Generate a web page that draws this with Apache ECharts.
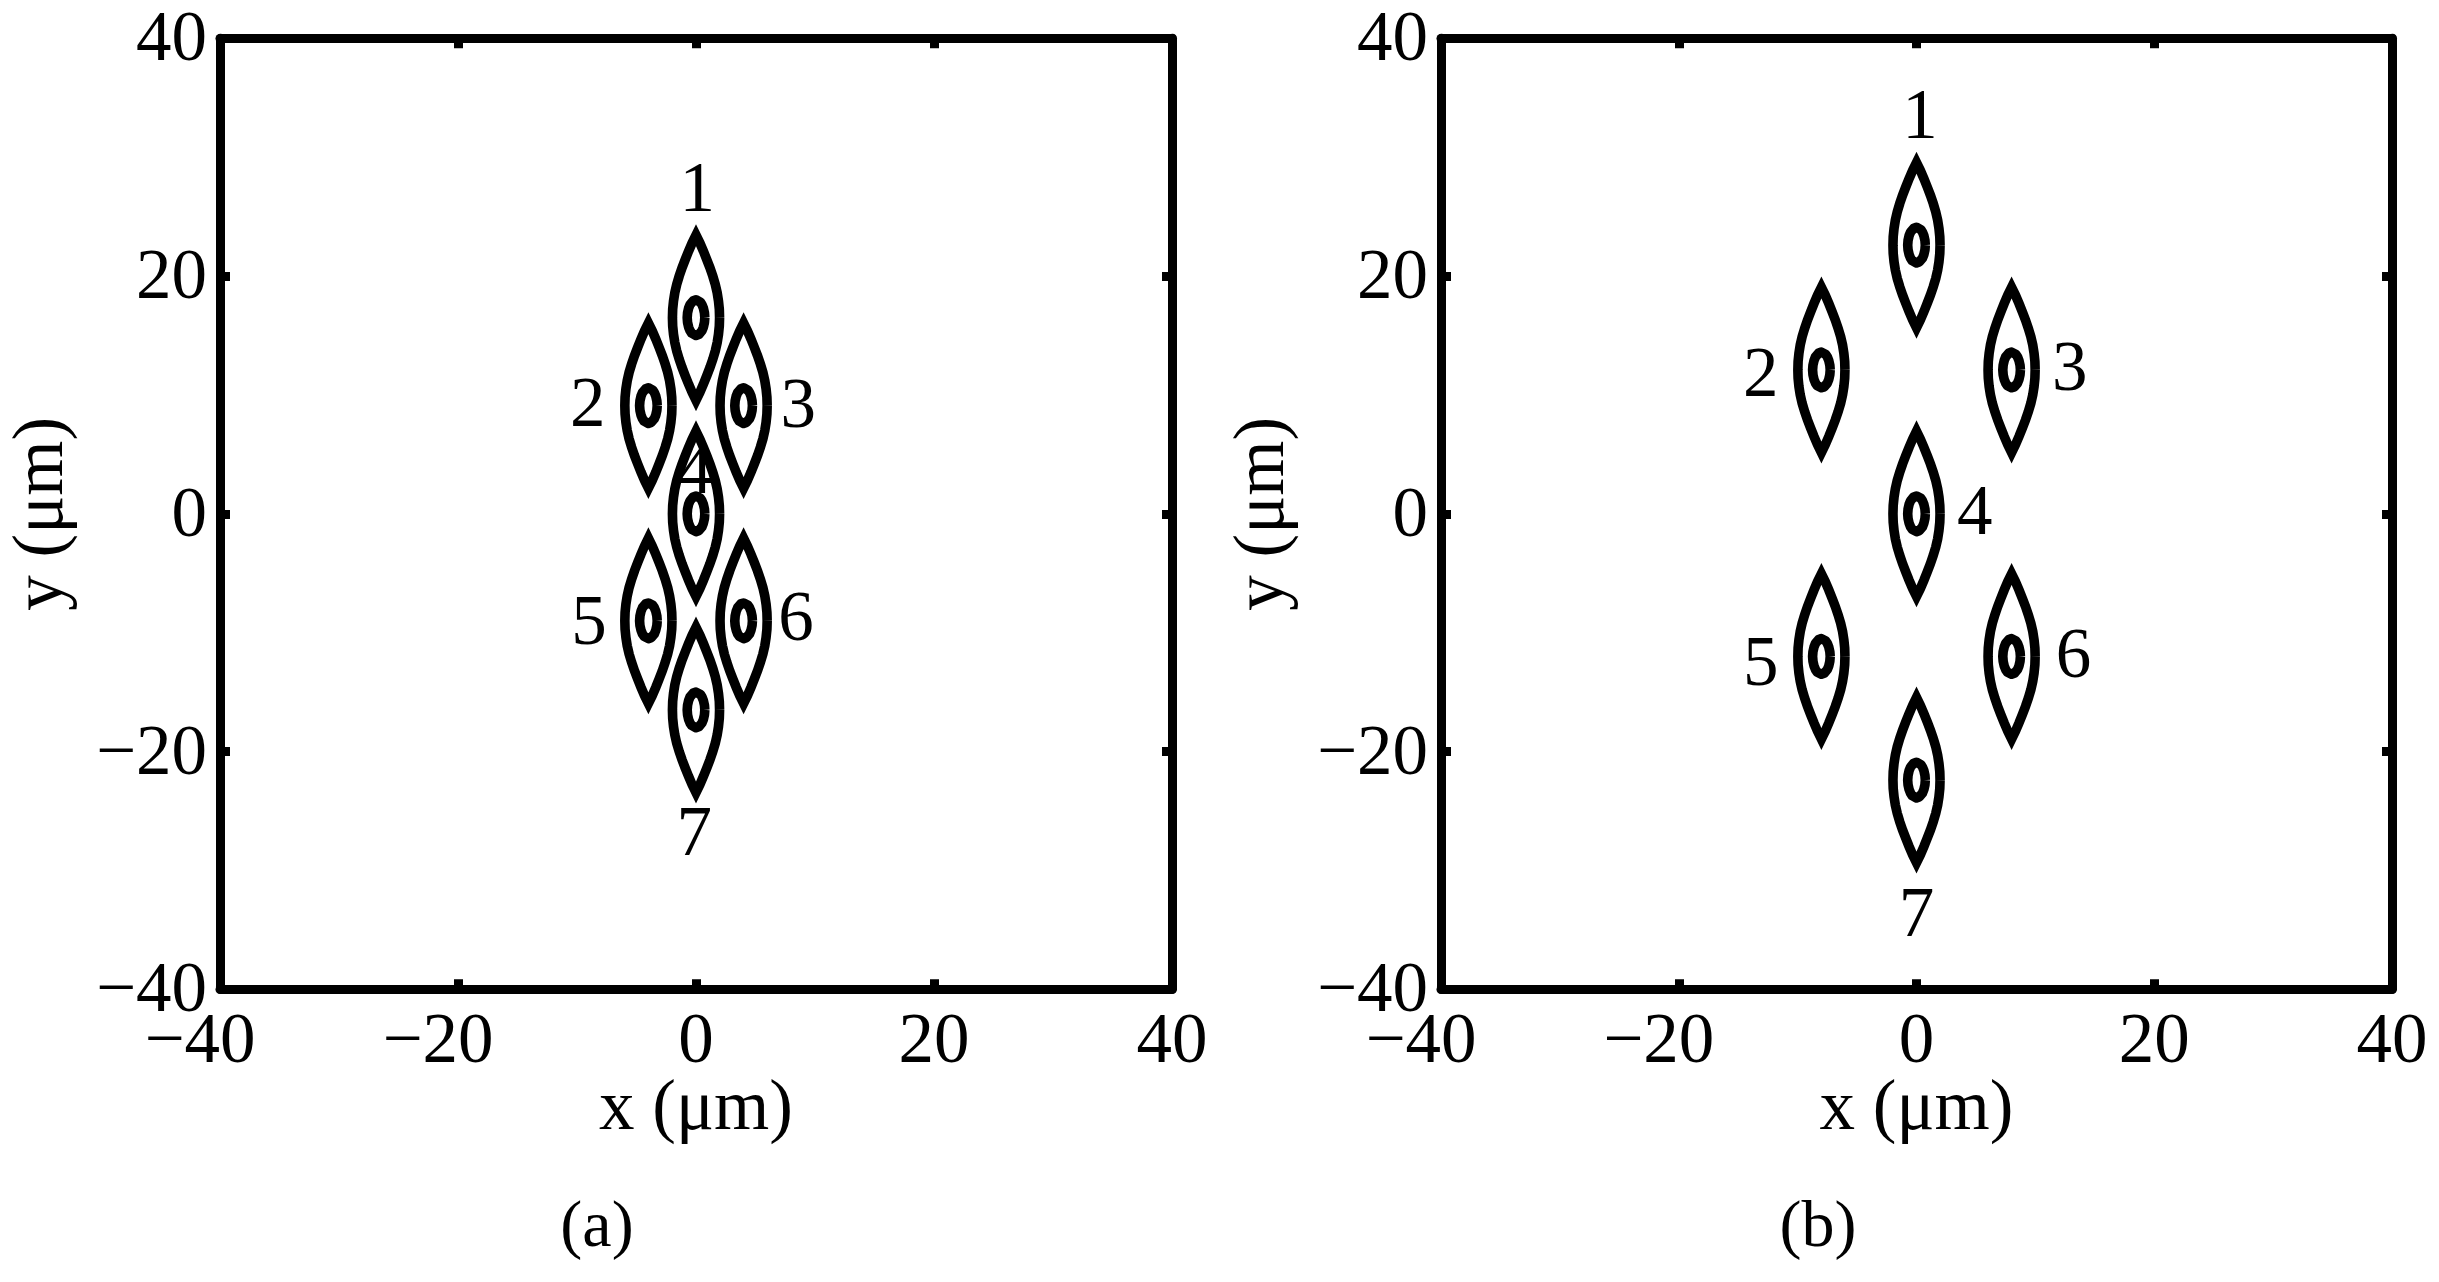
<!DOCTYPE html>
<html><head><meta charset="utf-8"><style>html,body{margin:0;padding:0;background:#fff}#c{width:2439px;height:1282px}</style>
<script src="https://cdn.jsdelivr.net/npm/echarts@6/dist/echarts.min.js"></script></head>
<body><div id="c"></div><script>
const xName = 'x (μm)';
const yName = 'y (μm)';
const captions = ['(a)', '(b)'];
const axisMin = -40, axisMax = 40, axisStep = 20;
// element centres (µm)
const centresA = [[0,16.5],[-4,9.1],[4,9.1],[0,0],[-4,-9],[4,-9],[0,-16.5]];
const centresB = [[0,22.6],[-8,12.1],[8,12.1],[0,0],[-8,-12],[8,-12],[0,-22.4]];
// number labels: [x, y, text]
const labelsA = [[0.1,27.3,'1'],[-9.1,9.2,'2'],[8.6,9.1,'3'],[-0.1,3.6,'4'],[-9,-9.1,'5'],[8.4,-8.8,'6'],[-0.15,-26.9,'7']];
const labelsB = [[0.3,33.4,'1'],[-13.1,11.7,'2'],[12.9,12.2,'3'],[4.9,0.15,'4'],[-13.1,-12.6,'5'],[13.2,-11.9,'6'],[0,-33.7,'7']];
// quarter outlines: [half-height, half-width] (µm)
const lensQuarter = [[0,1.98],[0.7,1.96],[1.4,1.89],[2.1,1.78],[2.8,1.62],[3.5,1.41],[4.2,1.17],[4.9,0.9],[5.6,0.62],[6.3,0.32],[6.95,0]];
const coreQuarter = [[0,0.74],[0.4,0.71],[0.8,0.62],[1.1,0.5],[1.3,0.37],[1.42,0.23],[1.5,0]];

const F = 'Liberation Serif';
function closed(q){
  const p=[];
  q.forEach(([h,w])=>p.push([w,h]));
  q.slice().reverse().slice(1).forEach(([h,w])=>p.push([-w,h]));
  q.slice(1).forEach(([h,w])=>p.push([-w,-h]));
  q.slice().reverse().slice(1).forEach(([h,w])=>p.push([w,-h]));
  return p;
}
const lens = closed(lensQuarter), core = closed(coreQuarter);
function xFmt(v){ return v<0 ? '{n|−'+Math.abs(v)+'}{g|}' : '{n|'+v+'}'; }
function yFmt(v){ return '{n|'+(v<0?'−'+Math.abs(v):v)+'}'; }
const rich = {n:{fontFamily:F,fontSize:71,color:'#000'},g:{width:40,fontSize:71}};
const richY = {n:{fontFamily:F,fontSize:71,color:'#000',padding:[7,0,0,0]}};
const line = {lineStyle:{color:'#000',width:9}};
const tick = {show:true,inside:true,length:10,lineStyle:{color:'#000',width:9}};
const grids = [{left:220,top:38.3,width:952,height:951},{left:1441,top:38.3,width:951,height:951}];
const xAxis=[],yAxis=[],series=[];
[0,1].forEach(g=>{
  const base={type:'value',min:axisMin,max:axisMax,interval:axisStep,gridIndex:g,splitLine:{show:false},axisLine:Object.assign({show:true,onZero:false},line),axisTick:tick};
  xAxis.push(Object.assign({},base,{position:'bottom',name:xName,nameLocation:'middle',nameGap:86,nameMoveOverlap:false,nameTextStyle:{fontFamily:F,fontSize:71,color:'#000'},axisLabel:{margin:19,formatter:xFmt,rich:rich,showMinLabel:true,showMaxLabel:true,hideOverlap:false}}));
  xAxis.push(Object.assign({},base,{position:'top',axisLabel:{show:false}}));
  yAxis.push(Object.assign({},base,{position:'left',name:yName,nameLocation:'middle',nameGap:141,nameMoveOverlap:false,nameTextStyle:{fontFamily:F,fontSize:71,color:'#000'},axisLabel:{margin:13,showMinLabel:true,showMaxLabel:true,hideOverlap:false,formatter:yFmt,rich:richY}}));
  yAxis.push(Object.assign({},base,{position:'right',axisLabel:{show:false}}));
  const centres=g?centresB:centresA, labels=g?labelsB:labelsA;
  const ax={xAxisIndex:g*2,yAxisIndex:g*2};
  centres.forEach(c=>{
    [[lens,'miter'],[core,'round']].forEach(([shape,join])=>{
      series.push(Object.assign({type:'line',showSymbol:false,silent:true,clip:false,animation:false,
        lineStyle:{color:'#000',width:9.6,join:join,cap:'butt',miterLimit:10},
        data:shape.map(p=>[c[0]+p[0],c[1]+p[1]])},ax));
    });
  });
  series.push(Object.assign({type:'scatter',symbolSize:0,silent:true,animation:false,z:5,
    itemStyle:{opacity:1},
    label:{show:true,position:'inside',offset:[0,3],align:'center',verticalAlign:'middle',fontFamily:F,fontSize:71,color:'#000',opacity:1,formatter:p=>p.value[2]},
    data:labels},ax));
});
const chart=echarts.init(document.getElementById('c'),null,{renderer:'canvas'});
chart.setOption({animation:false,backgroundColor:'#fff',
  title:[
    {text:captions[0],left:592,top:1191,textAlign:'center',textStyle:{fontFamily:F,fontSize:66,fontWeight:'normal',color:'#000'}},
    {text:captions[1],left:1813,top:1191,textAlign:'center',textStyle:{fontFamily:F,fontSize:66,fontWeight:'normal',color:'#000'}}],
  grid:grids,xAxis,yAxis,series});
</script></body></html>
